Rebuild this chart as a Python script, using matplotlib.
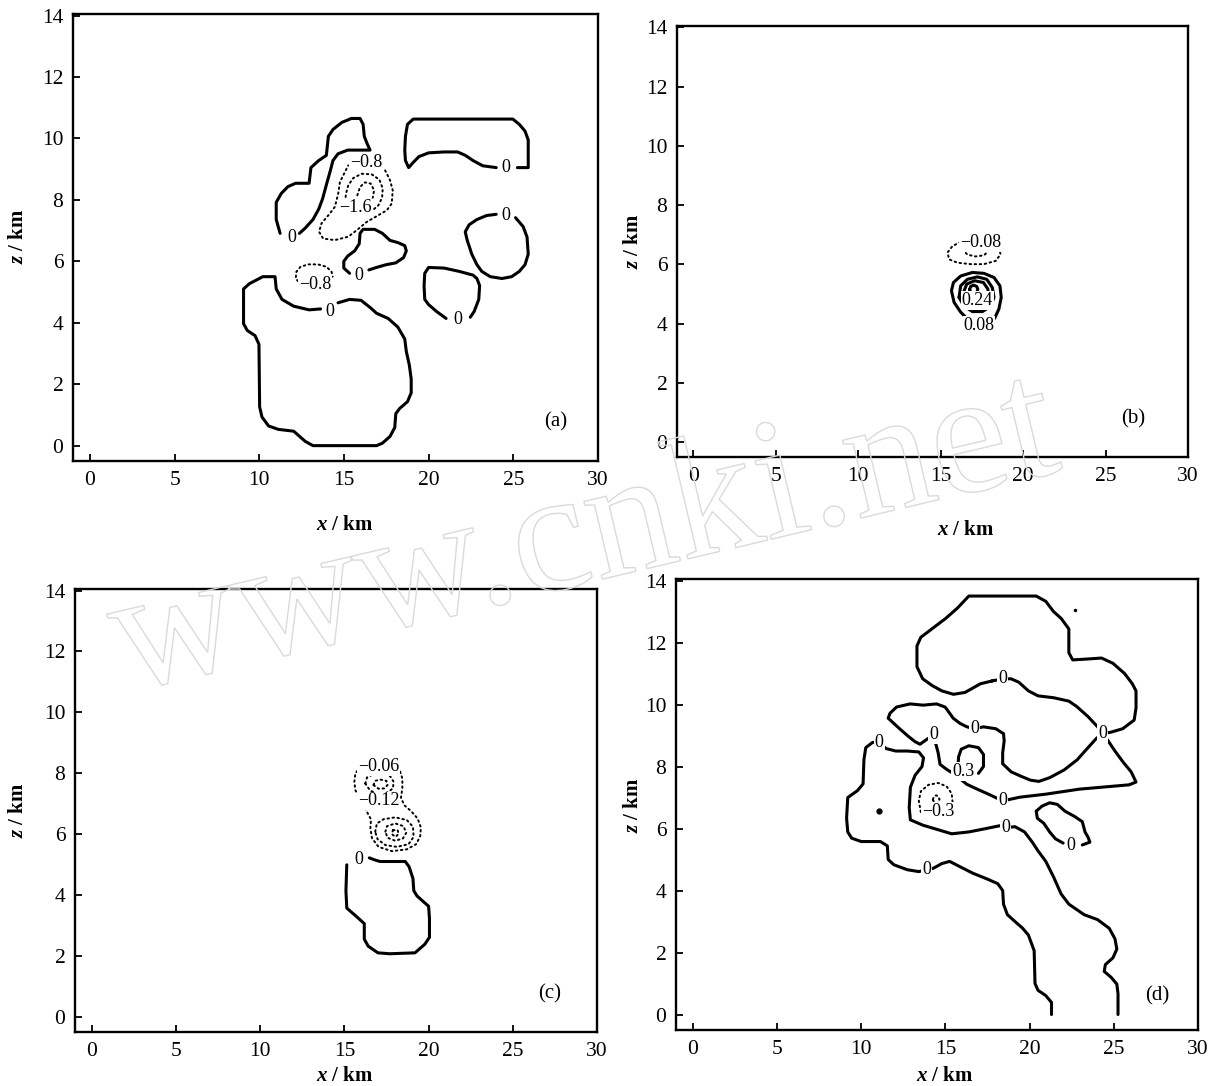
import matplotlib
matplotlib.use("Agg")
import matplotlib.pyplot as plt
from matplotlib.textpath import TextPath
from matplotlib.patches import PathPatch
from matplotlib.font_manager import FontProperties
from matplotlib.transforms import Affine2D, IdentityTransform

plt.rcParams['font.family'] = ['Liberation Serif', 'DejaVu Serif']
plt.rcParams['mathtext.fontset'] = 'custom'
plt.rcParams['mathtext.rm'] = 'Liberation Serif'
plt.rcParams['mathtext.it'] = 'Liberation Serif:italic'
plt.rcParams['mathtext.bf'] = 'Liberation Serif:bold'
plt.rcParams['mathtext.bfit'] = 'Liberation Serif:italic:bold'

# ---- contour outlines, (x km, z km) ----
# (a)
a_cell_low = [(14.65, 4.65), (15.33, 4.76), (16.01, 4.73), (16.58, 4.48), (16.92, 4.31), (17.61, 4.14),
              (18.18, 3.86), (18.59, 3.47), (18.68, 3.07), (18.86, 2.62), (18.97, 2.17), (18.97, 1.72),
              (18.75, 1.43), (18.29, 1.21), (18.06, 1.04), (18.00, 0.59), (17.72, 0.30), (17.27, 0.08),
              (16.92, 0.0), (15.22, 0.0), (13.17, 0.0), (12.71, 0.14), (12.03, 0.47), (11.12, 0.53),
              (10.55, 0.64), (10.16, 0.93), (10.02, 1.26), (9.98, 3.30), (9.75, 3.58), (9.29, 3.75),
              (9.07, 3.97), (9.07, 5.10), (9.41, 5.27), (10.21, 5.50), (10.93, 5.50), (11.00, 5.10),
              (11.34, 4.76), (12.03, 4.54), (12.94, 4.42), (13.62, 4.45)]
a_cell_upleft = [(11.23, 6.91), (11.00, 7.36), (11.00, 7.92), (11.30, 8.21), (11.69, 8.43), (12.14, 8.54),
                 (12.94, 8.54), (13.05, 9.05), (13.51, 9.28), (13.96, 9.45), (14.08, 10.07), (14.35, 10.29),
                 (14.87, 10.52), (15.44, 10.65), (15.95, 10.65), (16.13, 10.46), (16.20, 10.07), (16.36, 9.84),
                 (16.54, 9.62), (15.22, 9.62), (14.65, 9.50), (14.35, 9.28), (14.19, 8.94), (13.96, 8.49),
                 (13.74, 8.04), (13.51, 7.70), (13.17, 7.36), (12.71, 7.08), (12.37, 6.91)]
a_cell_upright = [(25.24, 9.05), (25.88, 9.05), (25.88, 9.95), (25.69, 10.24), (25.35, 10.46), (24.97, 10.63),
                  (19.09, 10.63), (18.75, 10.46), (18.63, 10.07), (18.59, 9.62), (18.63, 9.28), (18.82, 9.05),
                  (19.09, 9.22), (19.43, 9.41), (20.00, 9.53), (20.91, 9.56), (21.71, 9.56), (22.16, 9.45),
                  (22.62, 9.28), (23.19, 9.11), (23.99, 9.05)]
a_cell_right = [(25.13, 7.42), (25.58, 7.13), (25.81, 6.79), (25.88, 6.23), (25.69, 5.89), (25.35, 5.67),
                (24.90, 5.50), (24.33, 5.44), (23.64, 5.50), (23.14, 5.67), (22.85, 5.89), (22.55, 6.23),
                (22.28, 6.68), (22.16, 6.96), (22.39, 7.19), (22.85, 7.36), (23.42, 7.49), (23.99, 7.53)]
a_cell_lowright = [(22.46, 4.18), (22.69, 4.37), (22.96, 4.76), (23.01, 5.21), (22.85, 5.44), (22.62, 5.55),
                   (21.82, 5.67), (20.91, 5.78), (20.00, 5.80), (19.77, 5.61), (19.73, 5.21), (19.77, 4.76),
                   (20.00, 4.59), (20.46, 4.37), (21.03, 4.14)]
a_cell_mid = [(15.33, 5.61), (14.99, 5.78), (14.99, 6.00), (15.22, 6.17), (15.63, 6.34), (15.90, 6.57),
              (15.95, 6.91), (16.13, 7.04), (16.81, 7.04), (17.27, 6.91), (17.72, 6.68), (18.18, 6.61),
              (18.59, 6.51), (18.68, 6.34), (18.52, 6.12), (18.06, 5.95), (17.49, 5.89), (16.92, 5.80),
              (16.47, 5.72)]
a_neg_outer = [(17.43, 8.96), (17.72, 8.64), (17.88, 8.31), (17.82, 7.88), (17.53, 7.66), (17.03, 7.50),
               (16.34, 7.28), (15.75, 7.01), (15.25, 6.80), (14.46, 6.69), (13.77, 6.74), (13.53, 6.96),
               (13.67, 7.23), (14.17, 7.56), (14.46, 7.77), (14.66, 8.20), (14.76, 8.58), (15.06, 8.91),
               (15.25, 9.12)]
a_neg_mid = [(15.06, 7.93), (15.12, 8.20), (15.25, 8.47), (15.55, 8.71), (16.04, 8.85), (16.64, 8.83),
             (17.09, 8.66), (17.29, 8.37), (17.25, 8.07), (17.03, 7.82), (16.73, 7.68)]
a_neg_inner = [(15.75, 7.82), (15.79, 8.15), (15.95, 8.42), (16.24, 8.57), (16.58, 8.53), (16.78, 8.31),
               (16.70, 8.07)]
a_neg_low = [(12.49, 5.23), (12.15, 5.44), (12.19, 5.66), (12.43, 5.82), (12.88, 5.90), (13.47, 5.90),
             (13.97, 5.82), (14.27, 5.66), (14.33, 5.50)]
a_labels = [("0", 14.19, 4.37), ("0", 11.91, 6.79), ("0", 24.56, 9.05), ("0", 24.56, 7.49),
            ("0", 21.71, 4.09), ("0", 15.90, 5.55), ("−0.8", 16.30, 9.22), ("−1.6", 15.65, 7.74),
            ("−0.8", 13.28, 5.23)]

# (b)
b_neg_outer = [(16.21, 6.76), (15.71, 6.62), (15.41, 6.40), (15.51, 6.17), (16.01, 6.06), (16.82, 6.01),
               (17.62, 6.01), (18.33, 6.12), (18.63, 6.34), (18.53, 6.57), (18.33, 6.68)]
b_neg_inner = [(16.41, 6.45), (16.72, 6.57), (17.22, 6.60), (17.73, 6.57), (17.86, 6.43), (17.62, 6.31),
               (17.12, 6.27), (16.62, 6.33), (16.41, 6.45)]
b_pos_outer = [(16.62, 4.16), (16.21, 4.39), (15.81, 4.72), (15.65, 5.11), (15.77, 5.39), (16.21, 5.61),
               (16.92, 5.73), (17.62, 5.70), (18.23, 5.56), (18.59, 5.28), (18.67, 4.89), (18.53, 4.50),
               (18.27, 4.18)]
b_pos_mid = [(16.11, 4.89), (16.21, 5.28), (16.62, 5.50), (17.22, 5.58), (17.79, 5.50), (18.13, 5.22),
             (18.23, 4.89), (18.03, 4.59), (17.53, 4.41), (16.92, 4.41), (16.41, 4.59), (16.11, 4.89)]
b_pos_inner = [(16.46, 4.72), (16.38, 5.06), (16.58, 5.34), (17.06, 5.45), (17.59, 5.39), (17.86, 5.17),
               (17.92, 4.83), (17.73, 4.55), (17.22, 4.47), (16.72, 4.55), (16.46, 4.72)]
b_pos_core = [(16.75, 5.16), (16.82, 5.26), (17.00, 5.30), (17.18, 5.26), (17.25, 5.16), (17.18, 5.06),
              (17.00, 5.02), (16.82, 5.06), (16.75, 5.16)]
b_labels = [("−0.08", 17.42, 6.73), ("0.24", 17.22, 4.78), ("0.08", 17.32, 3.94)]

# (c)
c_cell = [(16.48, 5.22), (16.76, 5.16), (17.11, 5.10), (18.61, 5.10), (18.84, 4.93), (19.07, 4.54),
          (19.12, 4.14), (19.31, 3.97), (19.65, 3.80), (20.00, 3.63), (20.05, 3.23), (20.05, 2.61),
          (19.77, 2.38), (19.19, 2.10), (17.69, 2.07), (16.99, 2.10), (16.41, 2.32), (16.18, 2.55),
          (16.18, 3.06), (15.72, 3.29), (15.14, 3.57), (15.09, 4.14), (15.14, 4.99)]
c_neg_outer = [(15.95, 8.21), (15.65, 7.99), (15.59, 7.72), (15.65, 7.44), (15.85, 7.25), (16.05, 7.01),
               (16.34, 6.73), (16.58, 6.48), (16.54, 6.19), (16.64, 5.86), (17.03, 5.58), (17.82, 5.44),
               (18.71, 5.50), (19.26, 5.67), (19.50, 5.93), (19.54, 6.22), (19.35, 6.51), (18.95, 6.76),
               (18.55, 6.95), (18.36, 7.20), (18.44, 7.50), (18.44, 7.83), (18.28, 8.10), (17.82, 8.26),
               (16.73, 8.30), (16.24, 8.26), (15.95, 8.21)]
c_neg_up2 = [(16.24, 7.66), (16.34, 7.86), (16.73, 7.97), (17.23, 7.99), (17.72, 7.90), (17.92, 7.72),
             (17.88, 7.50), (17.53, 7.36), (17.03, 7.33), (16.54, 7.42), (16.24, 7.66)]
c_neg_up3 = [(16.73, 7.61), (16.83, 7.75), (17.13, 7.79), (17.49, 7.75), (17.56, 7.61), (17.37, 7.50),
             (17.03, 7.49), (16.73, 7.61)]
c_neg_low2 = [(16.83, 6.08), (16.93, 6.35), (17.33, 6.49), (18.02, 6.55), (18.71, 6.46), (19.07, 6.24),
              (19.11, 5.91), (18.81, 5.67), (18.12, 5.58), (17.43, 5.64), (16.97, 5.83), (16.83, 6.08)]
c_neg_low3 = [(17.43, 6.08), (17.53, 6.26), (18.02, 6.35), (18.51, 6.26), (18.67, 6.04), (18.48, 5.86),
              (18.02, 5.78), (17.56, 5.88), (17.43, 6.08)]
c_neg_low4 = [(17.88, 6.13), (18.16, 6.13), (18.22, 6.00), (18.02, 5.91), (17.82, 6.00), (17.88, 6.13)]
c_labels = [("−0.06", 17.03, 8.23), ("−0.12", 17.03, 7.09), ("0", 15.83, 5.18)]

# (d)
d_anvil = [(17.76, 10.76), (18.40, 10.83), (18.90, 10.83), (19.36, 10.72), (19.93, 10.44), (20.50, 10.28),
           (21.42, 10.22), (22.33, 10.11), (22.79, 9.94), (23.47, 9.61), (24.04, 9.28), (24.34, 9.06),
           (24.84, 9.11), (25.53, 9.22), (26.21, 9.50), (26.32, 9.89), (26.32, 10.44), (26.10, 10.67),
           (25.64, 11.00), (24.95, 11.33), (24.27, 11.50), (23.47, 11.47), (22.56, 11.44), (22.33, 11.67),
           (22.33, 12.44), (21.87, 12.78), (21.42, 13.00), (20.96, 13.33), (20.39, 13.50), (16.39, 13.50),
           (15.71, 13.11), (15.02, 12.78), (14.34, 12.50), (13.54, 12.17), (13.31, 11.89), (13.31, 11.22),
           (13.65, 10.83), (14.22, 10.61), (14.79, 10.44), (15.48, 10.33), (16.16, 10.39), (17.08, 10.67),
           (17.76, 10.76)]
d_middle = [(16.74, 9.22), (17.26, 9.28), (17.99, 9.22), (18.45, 9.06), (18.49, 8.83), (18.40, 8.44),
            (18.40, 8.09), (18.90, 7.83), (19.47, 7.69), (20.05, 7.56), (20.55, 7.52), (21.19, 7.64),
            (22.05, 7.89), (22.83, 8.22), (23.47, 8.61), (23.97, 8.91), (24.34, 9.06), (24.66, 8.83),
            (25.07, 8.50), (25.57, 8.13), (26.03, 7.83), (26.32, 7.50), (25.91, 7.41), (22.95, 7.27),
            (20.98, 7.11), (19.41, 7.01), (18.40, 6.89), (17.63, 7.09), (16.85, 7.28), (16.26, 7.43),
            (15.57, 7.74), (15.07, 7.91), (14.68, 8.07), (14.57, 8.44), (14.38, 8.83), (14.29, 9.02),
            (13.88, 8.87), (13.49, 8.72), (13.20, 8.80), (12.74, 9.00), (12.28, 9.22), (11.94, 9.39),
            (11.60, 9.56), (11.71, 9.72), (12.10, 9.92), (12.90, 10.02), (13.68, 9.98), (14.47, 10.02),
            (14.98, 9.92), (15.25, 9.72), (15.46, 9.56), (15.87, 9.39), (16.28, 9.28), (16.74, 9.22)]
d_body = [(21.30, 0.00), (21.30, 0.39), (20.96, 0.61), (20.50, 0.78), (20.32, 1.00), (20.27, 2.06),
          (19.93, 2.56), (19.59, 2.78), (19.13, 3.00), (18.68, 3.22), (18.45, 3.56), (18.40, 4.00),
          (18.11, 4.22), (17.53, 4.36), (16.62, 4.56), (15.82, 4.78), (15.25, 4.94), (14.79, 4.87),
          (14.29, 4.72), (13.88, 4.67), (13.42, 4.61), (12.74, 4.67), (11.94, 4.83), (11.60, 5.00),
          (11.55, 5.44), (11.14, 5.58), (10.00, 5.58), (9.43, 5.69), (9.20, 5.89), (9.13, 6.33),
          (9.20, 7.00), (9.77, 7.22), (10.11, 7.44), (10.16, 8.22), (10.27, 8.61), (10.68, 8.78),
          (11.07, 8.76), (11.48, 8.58), (12.05, 8.50), (12.74, 8.50), (13.42, 8.47), (13.70, 8.28),
          (13.61, 8.00), (13.20, 7.72), (12.92, 7.33), (12.85, 6.67), (12.92, 6.28), (13.65, 6.11),
          (14.45, 5.98), (15.37, 5.83), (16.39, 5.89), (17.42, 6.00), (18.22, 6.09), (18.56, 6.02),
          (19.13, 6.06), (19.70, 5.89), (20.16, 5.56), (20.50, 5.28), (20.96, 4.94), (21.42, 4.44),
          (21.87, 3.89), (22.33, 3.56), (23.24, 3.22), (24.04, 3.06), (24.73, 2.78), (25.07, 2.44),
          (25.18, 2.11), (24.95, 1.83), (24.50, 1.61), (24.43, 1.39), (24.84, 1.20), (25.18, 0.98),
          (25.25, 0.67), (25.25, 0.00)]
d_cell_right = [(23.13, 5.47), (23.58, 5.56), (23.47, 5.72), (23.29, 5.89), (23.13, 6.22), (22.67, 6.39),
                (22.10, 6.56), (21.64, 6.78), (21.19, 6.83), (20.73, 6.72), (20.39, 6.56), (20.46, 6.33),
                (20.84, 6.17), (21.19, 5.89), (21.53, 5.67), (21.99, 5.53)]
d_pos_core = [(16.96, 7.78), (17.26, 8.00), (17.26, 8.39), (16.96, 8.61), (16.39, 8.67), (15.94, 8.56),
              (15.78, 8.31), (15.75, 8.00), (15.66, 7.83)]
d_neg_outer = [(13.54, 6.53), (13.42, 6.89), (13.54, 7.20), (13.99, 7.41), (14.57, 7.47), (15.07, 7.36),
               (15.37, 7.13), (15.43, 6.83)]
d_neg_inner = [(14.25, 6.94), (14.33, 7.04), (14.45, 7.07), (14.57, 7.04), (14.65, 6.94), (14.57, 6.84),
               (14.45, 6.81), (14.33, 6.84), (14.25, 6.94)]
d_specks = [(11.07, 6.56, 3.5), (22.67, 13.06, 1.5)]
d_labels = [("0", 18.40, 10.83), ("0", 24.34, 9.06), ("0", 16.74, 9.22), ("0", 18.40, 6.89),
            ("0", 14.29, 9.02), ("0", 13.88, 4.67), ("0", 11.07, 8.76), ("0", 18.56, 6.02),
            ("0", 22.44, 5.44), ("0.3", 16.05, 7.83), ("−0.3", 14.57, 6.56)]

x_ticks = [0, 5, 10, 15, 20, 25, 30]
z_ticks = [0, 2, 4, 6, 8, 10, 12, 14]
panel_tags = [("(a)", 27.5, 0.76), ("(b)", 26.7, 0.79), ("(c)", 27.2, 0.74), ("(d)", 27.6, 0.61)]

W, H = 1222, 1086
fig = plt.figure(figsize=(W / 100, H / 100), dpi=100)


def make_axes(left, top, right, bottom):
    ax = fig.add_axes([left / W, 1 - bottom / H, (right - left) / W, (bottom - top) / H])
    ax.set_xlim(-1, 30)
    ax.set_ylim(-0.5, 14.05)
    ax.set_xticks(x_ticks)
    ax.set_yticks(z_ticks)
    ax.tick_params(direction='in', length=5, width=1.3, labelsize=15.5, pad=7)
    for sp in ax.spines.values():
        sp.set_linewidth(1.7)
    return ax


def solid(ax, pts):
    xs, zs = zip(*pts)
    ax.plot(xs, zs, color='black', lw=2.2, solid_capstyle='round', solid_joinstyle='round')


def dotted(ax, pts):
    xs, zs = zip(*pts)
    ax.plot(xs, zs, color='black', lw=1.4, linestyle=(0, (0.8, 1.8)), dash_capstyle='round')


def labels(ax, items):
    for s, x, z in items:
        ax.text(x, z, s, ha='center', va='center', fontsize=13,
                bbox=dict(fc='white', ec='none', pad=0.6), zorder=5)


axes = [make_axes(73, 14, 598, 461), make_axes(677, 26, 1188, 457),
        make_axes(75, 589, 597, 1032), make_axes(676, 579, 1198, 1030)]
ax_a, ax_b, ax_c, ax_d = axes

for pts in [a_cell_low, a_cell_upleft, a_cell_upright, a_cell_right, a_cell_lowright, a_cell_mid]:
    solid(ax_a, pts)
for pts in [a_neg_outer, a_neg_mid, a_neg_inner, a_neg_low]:
    dotted(ax_a, pts)
labels(ax_a, a_labels)

for pts in [b_pos_outer, b_pos_mid, b_pos_inner, b_pos_core]:
    solid(ax_b, pts)
for pts in [b_neg_outer, b_neg_inner]:
    dotted(ax_b, pts)
labels(ax_b, b_labels)

solid(ax_c, c_cell)
for pts in [c_neg_outer, c_neg_up2, c_neg_up3, c_neg_low2, c_neg_low3, c_neg_low4]:
    dotted(ax_c, pts)
labels(ax_c, c_labels)

for pts in [d_anvil, d_middle, d_body, d_cell_right, d_pos_core]:
    solid(ax_d, pts)
for pts in [d_neg_outer, d_neg_inner]:
    dotted(ax_d, pts)
for x, z, ms in d_specks:
    ax_d.plot(x, z, 'o', color='black', ms=ms)
labels(ax_d, d_labels)

for ax, (tag, x, z) in zip(axes, panel_tags):
    ax.text(x, z, tag, ha='center', va='center', fontsize=15)

# axis titles
for px, py in [(345, 525), (966, 530), (345, 1076), (945, 1076)]:
    fig.text(px / W, 1 - py / H, r'$\mathbfit{x}$ / km', ha='center', va='center',
             fontsize=15, fontweight='bold')
for px, py in [(18, 236), (633, 241), (18, 810), (633, 805)]:
    fig.text(px / W, 1 - py / H, r'$\mathbfit{z}$ / km', ha='center', va='center',
             fontsize=15, fontweight='bold', rotation=90)

# faint source watermark
tp = TextPath((0, 0), 'www.cnki.net', size=174, prop=FontProperties(family='Liberation Serif'))
mark = Affine2D().rotate_deg(13.3).translate(125, H - 692).transform_path(tp)
fig.add_artist(PathPatch(mark, fc='none', ec='#dadada', lw=1.0, transform=IdentityTransform()))

fig.savefig('out.png', dpi=100)
